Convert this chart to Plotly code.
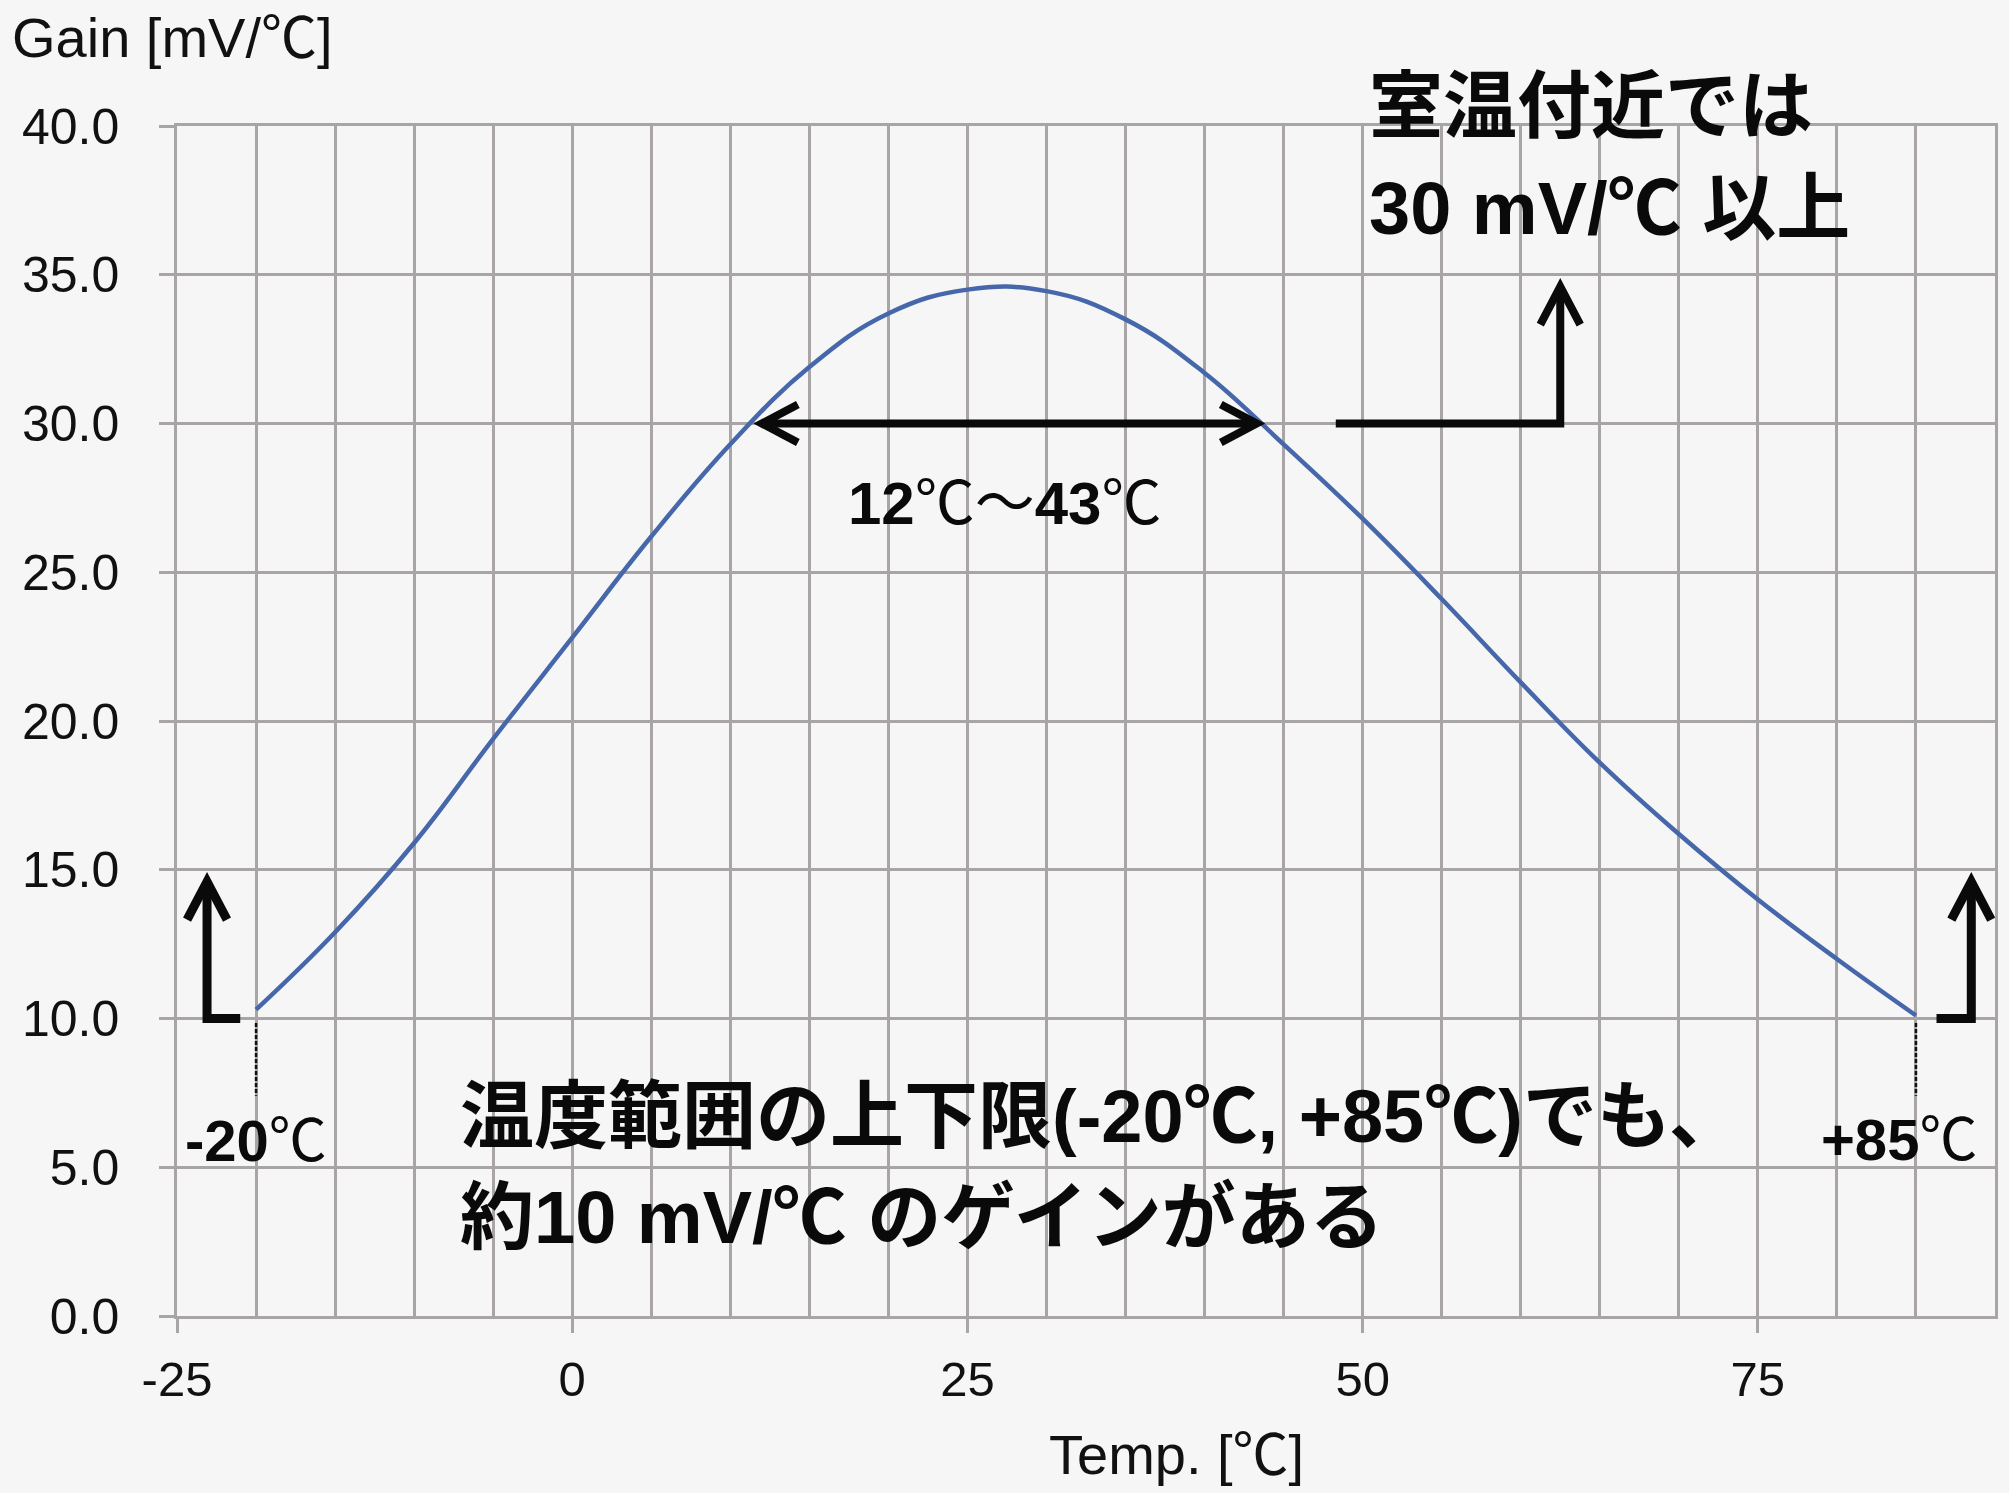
import plotly.graph_objects as go

# ---- data ----
temps = [-20, -15, -10, -5, 0, 5, 10, 15, 20, 25, 30, 35, 40, 45, 50, 55, 60, 65, 70, 75, 80, 85]
gains = [10.3, 12.9, 15.9, 19.4, 22.8, 26.2, 29.3, 31.9, 33.7, 34.5, 34.45, 33.5, 31.7, 29.3,
         26.8, 24.1, 21.3, 18.6, 16.2, 14.0, 12.0, 10.1]

x_range = [-25, 90]
y_range = [0, 40]
x_major_ticks = [-25, 0, 25, 50, 75]
x_major_text = ["-25", "0", "25", "50", "75"]
band_low, band_high = 12, 43.3      # 12℃ ~ 43℃ band at 30 mV/℃
band_level = 30
limit_low, limit_high = -20, 85
limit_level = 10

BG = "#f7f6f7"
GRID = "#a9a5a7"
LINE = "#4668aa"
FONT = "Liberation Sans, Arial, Noto Sans CJK JP, sans-serif"
JFONT = "Liberation Sans, Arial, Noto Sans CJK JP, sans-serif"

fig = go.Figure()
fig.add_trace(go.Scatter(x=temps, y=gains, mode="lines",
                         line=dict(color=LINE, width=4.5, shape="spline", smoothing=1.2),
                         hoverinfo="skip"))

fig.update_layout(
    width=2009, height=1493,
    margin=dict(l=177, r=11, t=126, b=177),
    paper_bgcolor=BG, plot_bgcolor=BG,
    showlegend=False,
    font=dict(family=FONT, color="#111111"),
)

fig.update_xaxes(
    range=x_range, tickmode="array", tickvals=x_major_ticks, ticktext=x_major_text,
    ticks="outside", ticklen=14, tickwidth=2.5, tickcolor=GRID,
    showgrid=True, gridcolor=GRID, gridwidth=2.5,
    minor=dict(tickmode="linear", tick0=-25, dtick=5, showgrid=True,
               gridcolor=GRID, gridwidth=2.5, ticks=""),
    zeroline=False, showline=True, mirror=True, linecolor=GRID, linewidth=2.5,
    tickfont=dict(size=49, family=FONT, color="#111111"),
    ticklabelstandoff=4,
)
fig.update_yaxes(
    range=y_range, tickmode="linear", tick0=0, dtick=5, tickformat=".1f",
    ticks="outside", ticklen=15, tickwidth=2.5, tickcolor=GRID,
    showgrid=True, gridcolor=GRID, gridwidth=2.5,
    zeroline=False, showline=True, mirror=True, linecolor=GRID, linewidth=2.5,
    tickfont=dict(size=50, family=FONT, color="#111111"),
    ticklabelstandoff=30,
)

# axis titles
fig.add_annotation(text="Gain [mV/℃]", xref="paper", yref="paper", x=-0.0917, y=1.074,
                   xanchor="left", yanchor="middle", showarrow=False,
                   font=dict(size=56, family=FONT, color="#111111"))
fig.add_annotation(text="Temp. [℃]", xref="paper", yref="paper", x=0.5497, y=-0.116,
                   xanchor="center", yanchor="middle", showarrow=False,
                   font=dict(size=56, family=FONT, color="#111111"))

# ---- arrows (shapes) ----
PXX = 15.84   # px per x unit
PXY = 29.73   # px per y unit
W = 8

def seg(path, width=W):
    fig.add_shape(type="path", path=path, xref="x", yref="y",
                  line=dict(color="#0a0a0a", width=width), layer="above")

# double arrow across 12 ~ 43 ℃
hx, hy = 36 / PXX, 19 / PXY
seg(f"M {band_low},{band_level} L {band_high},{band_level}")
seg(f"M {band_low+hx},{band_level+hy} L {band_low},{band_level} L {band_low+hx},{band_level-hy}")
seg(f"M {band_high-hx},{band_level+hy} L {band_high},{band_level} L {band_high-hx},{band_level-hy}")

# upper right L arrow
ux0, ux1, utop = 48.3, 62.5, 34.6
vx, vy = 20 / PXX, 38 / PXY
seg(f"M {ux0},{band_level} L {ux1},{band_level} L {ux1},{utop}")
seg(f"M {ux1-vx},{utop-vy} L {ux1},{utop} L {ux1+vx},{utop-vy}")

# left L arrow
lx_v, lx_h, ltop = -23.1, -21.0, 14.6
seg(f"M {lx_h},{limit_level} L {lx_v},{limit_level} L {lx_v},{ltop}", width=9)
seg(f"M {lx_v-vx},{ltop-vy} L {lx_v},{ltop} L {lx_v+vx},{ltop-vy}", width=9)

# right L arrow
rx_v, rx_h, rtop = 88.5, 86.3, 14.6
seg(f"M {rx_h},{limit_level} L {rx_v},{limit_level} L {rx_v},{rtop}", width=9)
seg(f"M {rx_v-vx},{rtop-vy} L {rx_v},{rtop} L {rx_v+vx},{rtop-vy}", width=9)

# dashed drop lines
for xv in (limit_low, limit_high):
    fig.add_shape(type="line", x0=xv, x1=xv, y0=limit_level - 0.15, y1=7.4, xref="x", yref="y",
                  line=dict(color="#111111", width=2.5, dash="4px,2px"), layer="above")

# ---- text annotations ----
def txt(text, x, y, size, xanchor="left", yref="y"):
    fig.add_annotation(text=text, x=x, y=y, xref="x", yref=yref, xanchor=xanchor, yanchor="middle",
                       showarrow=False, font=dict(size=size, family=JFONT, color="#0a0a0a"))

txt("<b>12</b>℃～<b>43</b>℃", 27.4, 27.3, 60, "center")
txt("<b>室温付近では</b>", 50.3, 1.016, 74, yref="paper")
txt("<b>30 mV/℃ 以上</b>", 50.3, 37.23, 74)
txt("<b>温度範囲の上下限(-20℃, +85℃)でも、</b>", -7.25, 6.69, 74)
txt("<b>約10 mV/℃ のゲインがある</b>", -7.25, 3.30, 74)
txt("<b>-20</b>℃", limit_low, 5.89, 58, "center")
txt("<b>+85</b>℃", 83.9, 5.92, 58, "center")

fig.write_html("out.html")
